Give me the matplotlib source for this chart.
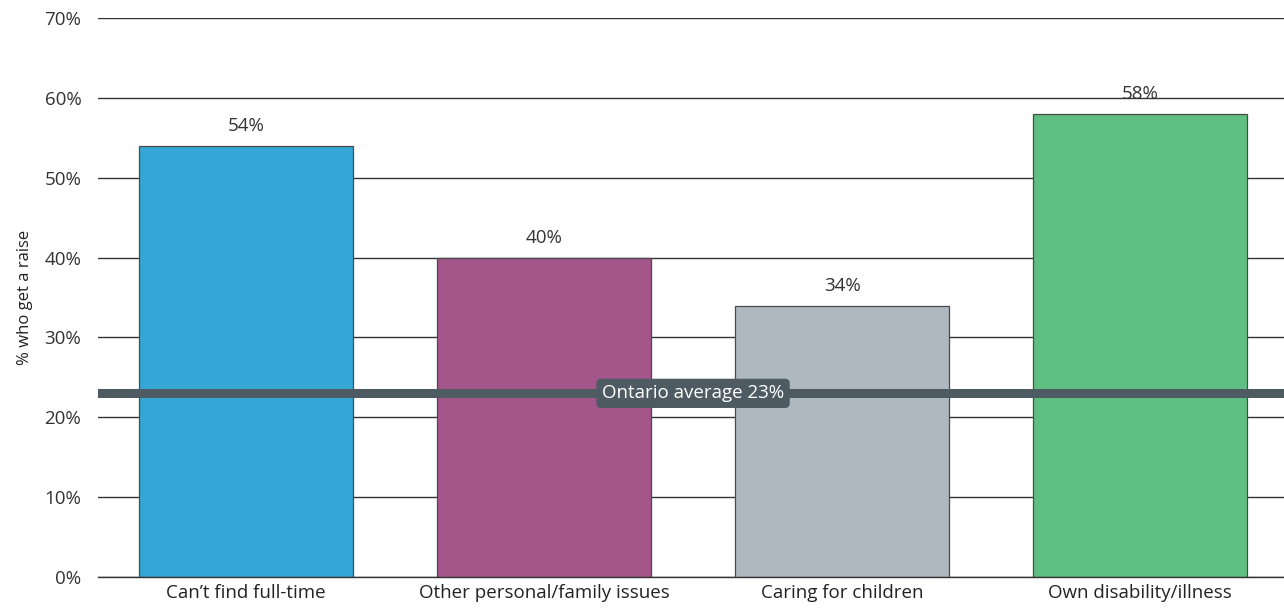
import matplotlib.pyplot as plt

plt.rcParams['font.family'] = ['Open Sans', 'DejaVu Sans']

# Share of workers who get a raise, by reason for part-time work
categories = ["Can\u2019t find full-time", "Other personal/family issues",
              "Caring for children", "Own disability/illness"]
values = [54, 40, 34, 58]
colors = ["#35a7d6", "#a4568a", "#afb8bf", "#5fbf82"]
ontario_avg = 23

fig = plt.figure(figsize=(12.84, 6.13), dpi=100)
ax = fig.add_axes([0.0763, 0.0587, 0.9237, 0.9119])

x = range(len(categories))
ax.bar(x, values, width=0.718, color=colors, edgecolor="#4a4a4a",
       linewidth=0.9, zorder=2)

for xi, v in zip(x, values):
    ax.annotate(f"{v}%", (xi, v), xytext=(0, 10.5), textcoords="offset points",
                ha="center", va="baseline", fontsize=13.5, color="#333333",
                zorder=1)

# Ontario average reference line with label
ax.axhline(ontario_avg, color="#4f5b62", linewidth=6.5, zorder=3)
ax.text(1.5, ontario_avg, f"Ontario average {ontario_avg}%", ha="center",
        va="center", fontsize=13.5, color="white", zorder=4,
        bbox=dict(boxstyle="round,pad=0.3,rounding_size=0.25",
                  fc="#4f5b62", ec="none"))

ax.set_ylim(0, 70)
ax.set_xlim(-0.497, 3.483)
ax.set_yticks(range(0, 71, 10))
ax.set_yticklabels([f"{t}%" for t in range(0, 71, 10)])
ax.set_xticks(list(x))
ax.set_xticklabels(categories)
ax.yaxis.grid(True, color="#333333", linewidth=1.0, zorder=0)
ax.axhline(0, color="#333333", linewidth=1.0, zorder=2.5, clip_on=False)
ax.set_axisbelow(True)
ax.tick_params(axis="y", length=0, pad=12, labelsize=13.5, labelcolor="#333333")
ax.tick_params(axis="x", length=0, pad=5, labelsize=13.5, labelcolor="#222222")
for s in ax.spines.values():
    s.set_visible(False)

ax.set_ylabel("% who get a raise", fontsize=12, color="#222222", labelpad=8)

fig.savefig("out.png", dpi=100)
